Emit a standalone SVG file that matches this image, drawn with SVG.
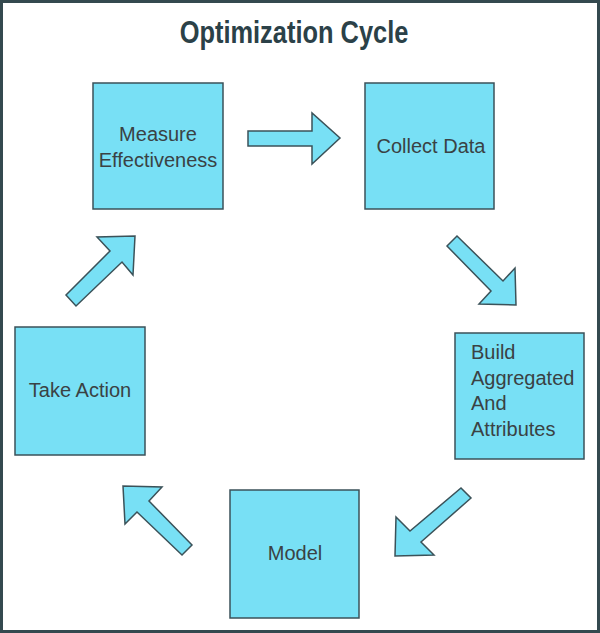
<svg xmlns="http://www.w3.org/2000/svg" width="600" height="633" viewBox="0 0 600 633">
<style>
.box{fill:#78e0f5;stroke:#3b5259;stroke-width:1.5}
.arr{fill:#78e0f5;stroke:#3b5259;stroke-width:1.5;stroke-linejoin:miter}
.lbl{font-family:"Liberation Sans",Arial,sans-serif;font-size:20px;fill:#3a4244}
.c{text-anchor:middle}
.title{font-family:"Liberation Sans",Arial,sans-serif;font-size:31px;font-weight:bold;fill:#2b4148;text-anchor:middle}
</style>
<rect x="1.5" y="1.5" width="597" height="630" fill="#ffffff" stroke="#34494f" stroke-width="3"/>
<text class="title" transform="translate(294,43) scale(0.82,1)" x="0" y="0">Optimization Cycle</text>
<g id="connectors">
<polygon class="arr" points="248,131 312,131 312,113 340,138 312,164 312,146 248,146"/>
<polygon class="arr" points="447,246 457,236 503,281 515,268 516,305 479,304 491,291"/>
<polygon class="arr" points="461,488 471,498 421,542 434,555 395,556 396,517 410,531"/>
<polygon class="arr" points="192,545 182,555 137,512 125,524 123,486 162,487 149,501"/>
<polygon class="arr" points="66,295 76,306 122,262 133,275 135,236 97,237 110,251"/>
</g>
<g id="measure">
<rect class="box" x="93" y="83" width="130" height="126"/>
<text class="lbl c" x="158" y="141">Measure</text>
<text class="lbl c" x="158" y="167">Effectiveness</text>
</g>
<g id="collect">
<rect class="box" x="365" y="83" width="129" height="126"/>
<text class="lbl c" x="431" y="153">Collect Data</text>
</g>
<g id="build">
<rect class="box" x="455" y="333" width="129" height="126"/>
<text class="lbl" x="471" y="359">Build</text>
<text class="lbl" x="471" y="385">Aggregated</text>
<text class="lbl" x="471" y="410">And</text>
<text class="lbl" x="471" y="436">Attributes</text>
</g>
<g id="model">
<rect class="box" x="230" y="490" width="129" height="128"/>
<text class="lbl c" x="295" y="560">Model</text>
</g>
<g id="takeaction">
<rect class="box" x="15" y="327" width="130" height="128"/>
<text class="lbl c" x="80" y="397">Take Action</text>
</g>
</svg>
